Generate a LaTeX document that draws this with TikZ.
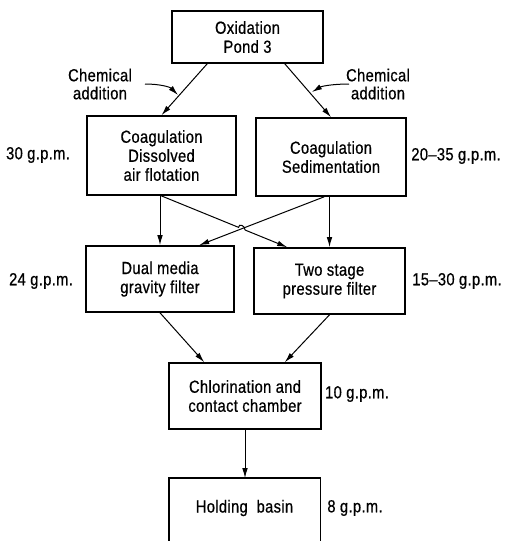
\documentclass[tikz,border=0pt]{standalone}
\usepackage{fontspec}
\setmainfont{Liberation Sans}[FakeStretch=0.84,FakeBold=0.6,LetterSpace=2]
\usetikzlibrary{arrows.meta,calc,intersections}

\tikzset{
  box/.style={draw, line width=1.6pt, align=center, inner sep=0pt,
              font=\fontsize{17.5}{19}\selectfont},
  lbl/.style={align=center, inner sep=0pt, font=\fontsize{17.5}{18}\selectfont},
  conn/.style={line width=1pt},
  flow/.style={conn, -{Latex[length=10pt,width=5.5pt]}}
}

\begin{document}
\begin{tikzpicture}[x=1pt, y=-1pt]
  \useasboundingbox (0,0) rectangle (505,541);

  % process boxes
  \node[box, minimum width=151pt, minimum height=52pt] (ox)  at (247.5,37)  {Oxidation\\Pond 3};
  \node[box, minimum width=149pt, minimum height=79pt] (daf) at (161.5,155.5) {Coagulation\\Dissolved\\air flotation};
  \node[box, minimum width=150pt, minimum height=78pt] (sed) at (331,157)   {Coagulation\\Sedimentation};
  \node[box, minimum width=148pt, minimum height=66pt] (dual) at (160,279)  {Dual media\\gravity filter};
  \node[box, minimum width=151pt, minimum height=66pt] (two) at (329.5,281) {Two stage\\pressure filter};
  \node[box, minimum width=152pt, minimum height=66pt] (chl) at (245,396)   {Chlorination and\\contact chamber};
  % holding basin: runs on below the lower edge
  \node[box, draw=none, minimum width=150pt, minimum height=58pt] (hold) at (244.5,508) {Holding\ \ basin};
  \draw[line width=1.6pt] ($(hold.south west)+(0,30)$) -- (hold.north west)
        -- (hold.north east) -- ($(hold.south east)+(0,30)$);

  % flow rates
  \node[lbl] (r1) at (38,155)  {30 g.p.m.};
  \node[lbl] (r2) at (456,156) {20--35 g.p.m.};
  \node[lbl] (r3) at (41,281)  {24 g.p.m.};
  \node[lbl] (r4) at (457,281) {15--30 g.p.m.};
  \node[lbl] (r5) at (357,394) {10 g.p.m.};
  \node[lbl] (r6) at (355,508) {8 g.p.m.};

  % chemical addition labels
  \node[lbl] (cl) at (100,84) {Chemical\\addition};
  \node[lbl] (cr) at (378,84) {Chemical\\addition};

  % pond to coagulation
  \draw[flow] ($(ox.south west)+(36,0)$) -- (daf.north);
  \draw[flow] ($(ox.south east)+(-39,0)$) -- (sed.north);

  % chemical feed arrows
  \coordinate (cl0) at (145,84);
  \coordinate (cl1) at (178,95);
  \coordinate (cr0) at (349,84);
  \coordinate (cr1) at (312,92);
  \draw[flow] (cl0) .. controls (160,84) and (170,87) .. (cl1);
  \draw[flow] (cr0) .. controls (334,84) and (322,86) .. (cr1);

  % coagulation to filters, straight down
  \draw[flow] (dual.north |- daf.south) -- (dual.north);
  \draw[flow] (two.north |- sed.south) -- (two.north);

  % crossing feeds
  \coordinate (a1) at ($(daf.south west)+(75,0)$);
  \coordinate (a2) at ($(two.north west)+(34,0)$);
  \coordinate (b1) at ($(sed.south west)+(69,0)$);
  \coordinate (b2) at ($(dual.north west)+(114,0)$);
  \path[name path=lineA] (a1) -- (a2);
  \path[name path=lineB] (b1) -- (b2);
  \path[name intersections={of=lineA and lineB, by=X}];
  \coordinate (p1) at ($(X)!3.5pt!(a1)$);
  \coordinate (p2) at ($(X)!3.5pt!(a2)$);
  \draw[flow] (b1) -- (b2);
  \draw[conn] (a1) -- (p1) .. controls ($(p1)+(0,-4.5)$) and ($(p2)+(0,-4.5)$) .. (p2);
  \draw[flow] (p2) -- (a2);

  % filters to chlorination
  \draw[flow] (dual.south) -- ($(chl.north west)+(36,0)$);
  \draw[flow] (two.south) -- ($(chl.north east)+(-37,0)$);

  % chlorination to holding basin
  \draw[flow] (chl.south) -- (chl.south |- hold.north);
\end{tikzpicture}
\end{document}
